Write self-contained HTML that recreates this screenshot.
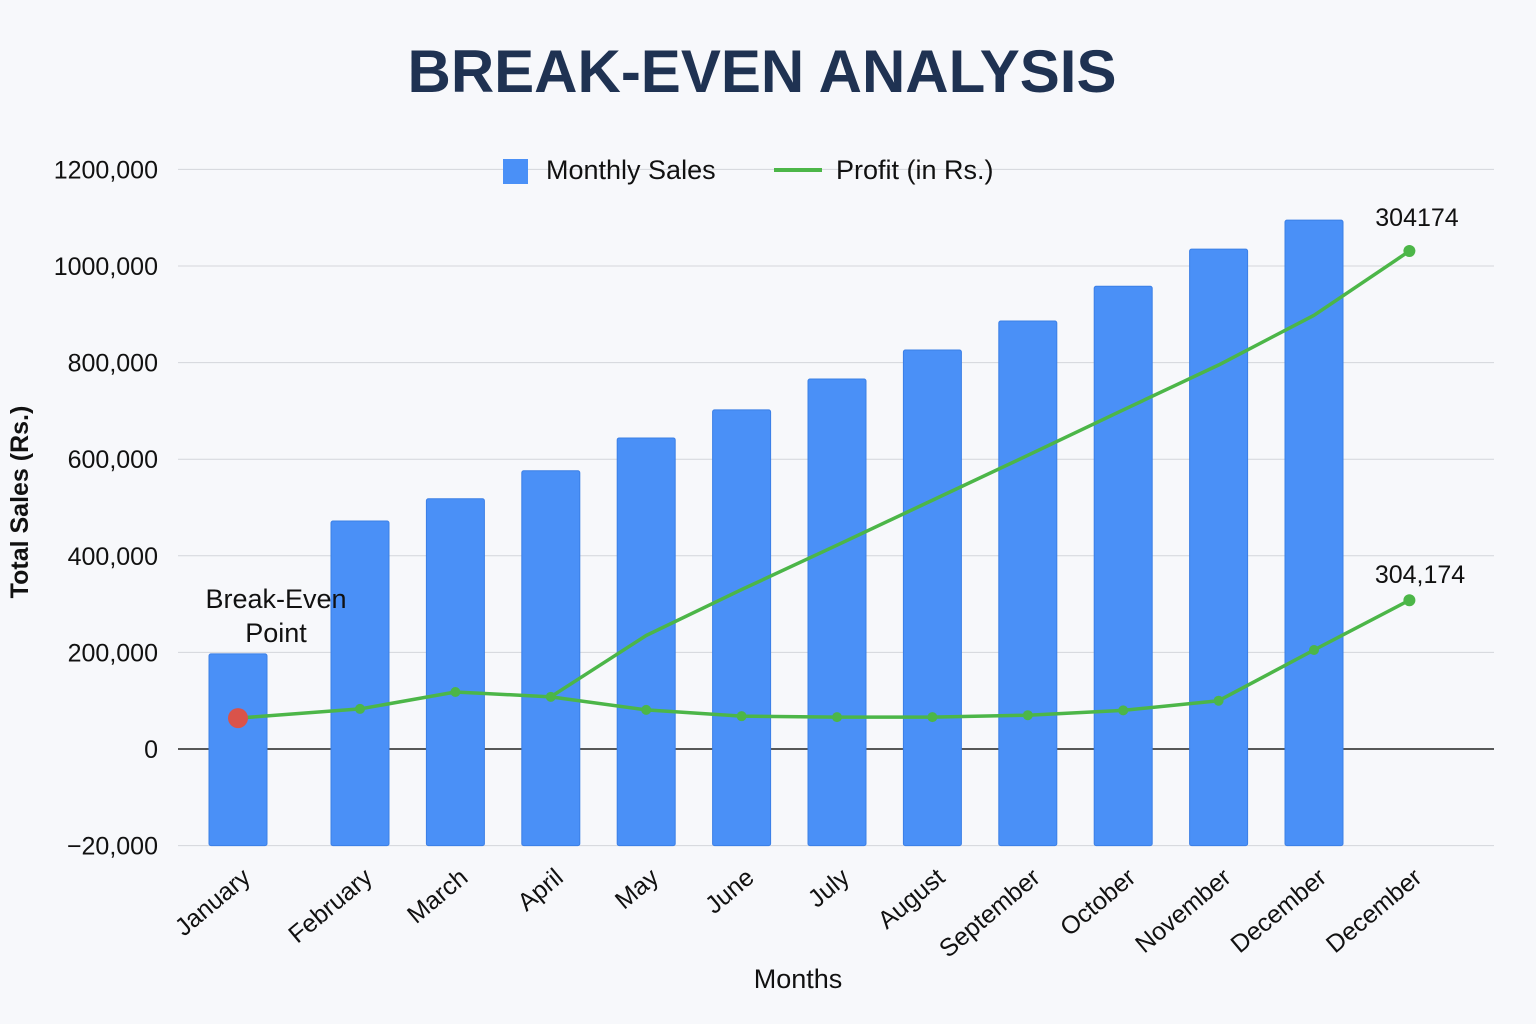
<!DOCTYPE html>
<html><head><meta charset="utf-8"><style>
html,body{margin:0;padding:0;background:#f7f8fb;}
svg{display:block;font-family:"Liberation Sans","DejaVu Sans",sans-serif;}
</style></head><body>
<svg id="chart" width="1536" height="1024" viewBox="0 0 1536 1024">
<rect x="0" y="0" width="1536" height="1024" fill="#f7f8fb"/>
<text x="762" y="92" text-anchor="middle" font-size="60" font-weight="bold" fill="#1f3252">BREAK-EVEN ANALYSIS</text>
<g id="grid"></g>
<g id="bars"></g>
<g id="lines"></g>
<g id="xlabels"></g>
<text x="798" y="988" text-anchor="middle" font-size="27" fill="#111">Months</text>
<text transform="translate(28,502) rotate(-90)" text-anchor="middle" font-size="25" font-weight="bold" fill="#111">Total Sales (Rs.)</text>
<g>
<g><rect x="503" y="159" width="25" height="25" fill="#4a90f7"/><text x="546" y="179" font-size="27" fill="#111">Monthly Sales</text></g>
<g><line x1="774" y1="170" x2="822" y2="170" stroke="#4cb648" stroke-width="4"/><text x="836" y="179" font-size="27" fill="#111">Profit (in Rs.)</text></g>
</g>
<text x="276" y="608" text-anchor="middle" font-size="27" fill="#111">Break-Even</text>
<text x="276" y="642" text-anchor="middle" font-size="27" fill="#111">Point</text>
<text x="1417" y="226" text-anchor="middle" font-size="25" fill="#111">304174</text>
<text x="1420" y="583" text-anchor="middle" font-size="25" fill="#111">304,174</text>
</svg>
<script>
const categories = ["January","February","March","April","May","June","July","August","September","October","November","December","December"];
const salesValues = [197000,472000,518000,576000,644000,702000,766000,826000,886000,958000,1035000,1095000];
const profitValues = [64000,83000,118000,108000,81000,68000,66000,66000,70000,80000,100000,205000,308000];
const projectedProfit = [null,null,null,108000,235000,330000,422000,515000,608000,702000,795000,898000,1031000];
const yTickValues = [1200000,1000000,800000,600000,400000,200000,0,-200000];
const yTickLabels = ["1200,000","1000,000","800,000","600,000","400,000","200,000","0","\u221220,000"];

const NS="http://www.w3.org/2000/svg";
const y = v => 749 - v/200000*96.6;
const x = i => i===0 ? 238 : 264.6 + 95.4*i;
function mk(tag, attrs, parent){const e=document.createElementNS(NS,tag);for(const k in attrs)e.setAttribute(k,attrs[k]);parent.appendChild(e);return e;}
const grid=document.getElementById('grid'), bars=document.getElementById('bars'), lines=document.getElementById('lines'), xl=document.getElementById('xlabels');

yTickValues.forEach((v,i)=>{
  const l=mk('line',{x1:178,x2:1494,y1:y(v),y2:y(v),stroke:v===0?'#222':'#d4d6db','stroke-width':v===0?1.5:1},grid);
  
  
  const t=mk('text',{x:158,y:y(v)+9,'text-anchor':'end','font-size':25,fill:'#111'},grid);
  t.textContent=yTickLabels[i];
  
  
});

salesValues.forEach((v,i)=>{
  const b=mk('rect',{x:x(i)-29,y:y(v),width:58,height:y(-200000)-y(v),fill:'#4a90f7',stroke:'#3b7fe6','stroke-width':1,rx:2},bars);
  
  
});

categories.forEach((c,i)=>{
  const t=mk('text',{x:0,y:0,'text-anchor':'end','font-size':25,fill:'#111',transform:`translate(${x(i)+14},${880}) rotate(-40)`},xl);
  t.textContent=c;
  
  
});

let d='';profitValues.forEach((v,i)=>{d+=(i?'L':'M')+x(i)+','+y(v);});
const pl=mk('path',{d:d,fill:'none',stroke:'#4cb648','stroke-width':3.5,'stroke-linejoin':'round'},lines);


let d2='';let first=true;projectedProfit.forEach((v,i)=>{if(v===null)return;d2+=(first?'M':'L')+x(i)+','+y(v);first=false;});
const pl2=mk('path',{d:d2,fill:'none',stroke:'#4cb648','stroke-width':3.5,'stroke-linejoin':'round'},lines);


profitValues.forEach((v,i)=>{
  if(i===0)return;
  const c=mk('circle',{cx:x(i),cy:y(v),r:i===12?6:5,fill:'#4cb648'},lines);
  
  
});
const e=mk('circle',{cx:x(12),cy:y(projectedProfit[12]),r:6,fill:'#4cb648'},lines);


const be=mk('circle',{cx:x(0),cy:y(profitValues[0]),r:10,fill:'#d9534a'},lines);


</script>
</body></html>
